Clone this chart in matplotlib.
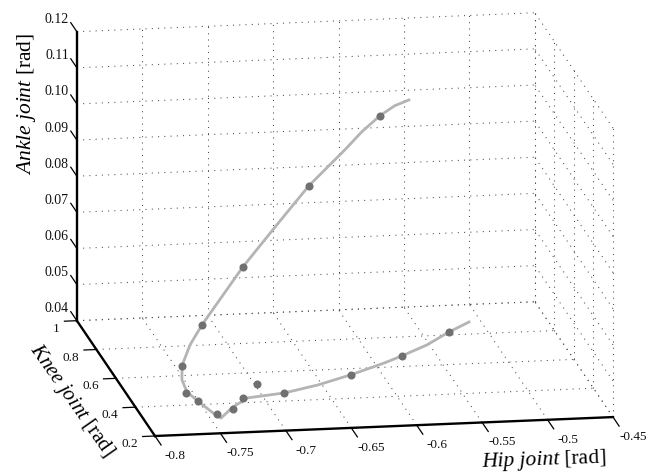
#!/usr/bin/env python3
import matplotlib
matplotlib.use('Agg')

import matplotlib.pyplot as plt
from mpl_toolkits.mplot3d import proj3d

plt.rcParams['font.family'] = ['Liberation Serif', 'DejaVu Serif']
plt.rcParams['mathtext.fontset'] = 'custom'
plt.rcParams['mathtext.rm'] = 'Liberation Serif'
plt.rcParams['mathtext.it'] = 'Liberation Serif:italic'

# Data
hip_ticks = [-0.8, -0.75, -0.7, -0.65, -0.6, -0.55, -0.5, -0.45]
hip_labels = ['-0.8', '-0.75', '-0.7', '-0.65', '-0.6', '-0.55', '-0.5', '-0.45']
knee_ticks = [0.2, 0.4, 0.6, 0.8, 1.0]
knee_labels = ['0.2', '0.4', '0.6', '0.8', '1']
ankle_ticks = [0.04, 0.05, 0.06, 0.07, 0.08, 0.09, 0.10, 0.11, 0.12]
ankle_labels = ['0.04', '0.05', '0.06', '0.07', '0.08', '0.09', '0.10', '0.11', '0.12']

curve_hip = [-0.5612, -0.5727, -0.5848, -0.6001, -0.6146, -0.6451, -0.6740, -0.7030, -0.7402,
             -0.7520, -0.7607, -0.7630, -0.7606, -0.7522, -0.7460, -0.7421, -0.7292, -0.7140,
             -0.6850, -0.6561, -0.6279, -0.5989, -0.5844, -0.5631, -0.5440, -0.5265]
curve_knee = [0.80, 0.79, 0.78, 0.76, 0.74, 0.70, 0.65, 0.60, 0.52,
              0.485, 0.45, 0.42, 0.40, 0.38, 0.33, 0.30, 0.35, 0.40,
              0.42, 0.46, 0.50, 0.54, 0.56, 0.59, 0.62, 0.65]
curve_ankle = [0.1055, 0.1045, 0.1023, 0.0989, 0.0949, 0.0870, 0.0783, 0.0694, 0.0571,
               0.0531, 0.0489, 0.0462, 0.0436, 0.0413, 0.0404, 0.0401, 0.0410, 0.0413,
               0.0414, 0.0416, 0.0424, 0.0437, 0.0446, 0.0461, 0.0482, 0.0495]

point_hip = [-0.5848, -0.6451, -0.7030, -0.7402, -0.7607, -0.7614, -0.7537, -0.7437,
             -0.7307, -0.7164, -0.6997, -0.6850, -0.6279, -0.5844, -0.5440]
point_knee = [0.78, 0.70, 0.60, 0.52, 0.45, 0.40, 0.38, 0.32,
              0.33, 0.42, 0.50, 0.42, 0.50, 0.56, 0.62]
point_ankle = [0.1023, 0.0870, 0.0694, 0.0571, 0.0489, 0.0434, 0.0418, 0.0405,
               0.0413, 0.0405, 0.0410, 0.0414, 0.0424, 0.0446, 0.0482]

x0, x1 = hip_ticks[0], hip_ticks[-1]
y0, y1 = knee_ticks[0], knee_ticks[-1]
z0, z1 = ankle_ticks[0], ankle_ticks[-1]

fig = plt.figure(figsize=(6.59, 4.75), dpi=100)
ax = fig.add_axes([0, 0, 1, 1], projection='3d', proj_type='ortho', computed_zorder=False)
ax.view_init(elev=14.3, azim=-99.5)
ax.set_xlim(x0, x1, view_margin=0)
ax.set_ylim(y0, y1, view_margin=0)
ax.set_zlim(z0, z1, view_margin=0)
ax.axis('off')
ax.patch.set_alpha(0)


def to_pixels(x, y, z):
    px, py, _ = proj3d.proj_transform(x, y, z, ax.get_proj())
    return ax.transData.transform((px, py))


# same view as the original, scale and shift so the box lands on the same pixels
aspect = (464, 473, 298)
ax.set_box_aspect(aspect, zoom=1)
fig.canvas.draw()
p0 = to_pixels(x0, y0, z0)
p1 = to_pixels(x1, y0, z0)
ax.set_box_aspect(aspect, zoom=458 / (p1[0] - p0[0]))
fig.canvas.draw()
p0 = to_pixels(x0, y0, z0)
ax.set_position([(155 - p0[0]) / 659, (39 - p0[1]) / 475, 1, 1])
fig.canvas.draw()


def line(xs, ys, zs, **kw):
    ax.plot(xs, ys, zs, clip_on=False, **kw)


def label_at(x, y, z, s, **kw):
    # tick labels sit at a 3D spot but are plain figure text
    px, py = to_pixels(x, y, z)
    fig.text(px / 659, py / 475, s, va='center', color='#111111', **kw)


grid = dict(color='#4a4a4a', lw=0.75, ls=(0, (1, 5)), zorder=1)
for x in hip_ticks[1:]:
    line([x, x], [y1, y1], [z0, z1], **grid)
    line([x, x], [y0, y1], [z0, z0], **grid)
for y in knee_ticks:
    line([x1, x1], [y, y], [z0, z1], **grid)
for y in knee_ticks[1:]:
    line([x0, x1], [y, y], [z0, z0], **grid)
for z in ankle_ticks:
    line([x0, x1], [y1, y1], [z, z], **grid)
    line([x1, x1], [y0, y1], [z, z], **grid)

# trajectory
line(curve_hip, curve_knee, curve_ankle, color='#b4b4b4', lw=2.0, zorder=3)
line(point_hip, point_knee, point_ankle, color='none', marker='o', ms=5.8,
     mfc='#707070', mec='#707070', mew=0, zorder=4)

# axes
axis = dict(color='black', lw=1.7, zorder=5, solid_capstyle='projecting')
line([x0, x1], [y0, y0], [z0, z0], **axis)
line([x0, x0], [y0, y1], [z0, z0], **axis)
line([x0, x0], [y1, y1], [z0, z1], **axis)

tick = dict(color='black', lw=0.9, zorder=5)
for x, label in zip(hip_ticks, hip_labels):
    line([x, x], [y0, y0 - 0.0625], [z0, z0], **tick)
    label_at(x + 0.005, y0 - 0.14, z0, label, fontsize=9.5, ha='center')
for y, label in zip(knee_ticks, knee_labels):
    line([x0, x0 - 0.0095], [y, y], [z0, z0], **tick)
    label_at(x0 - 0.0167, y - 0.05, z0, label, fontsize=9.5, ha='right')
for z, label in zip(ankle_ticks, ankle_labels):
    line([x0, x0], [y1, y1 + 0.0625], [z, z], **tick)
    label_at(x0, y1 + 0.083, z, label, fontsize=10, ha='right')

fig.text(27 / 659, 1 - 104 / 475, r'$\mathit{Ankle\ joint}$ [rad]', fontsize=15.5,
         rotation=90, ha='center', va='center')
fig.text(71 / 659, 1 - 401 / 475, r'$\mathit{Knee\ joint}$ [rad]', fontsize=15,
         rotation=-55, rotation_mode='anchor', ha='center', va='center')
fig.text(544 / 659, 1 - 460 / 475, r'$\mathit{Hip\ joint}$ [rad]', fontsize=15.5,
         rotation=2, rotation_mode='anchor', ha='center', va='center')

plt.savefig('out.png', dpi=100)
